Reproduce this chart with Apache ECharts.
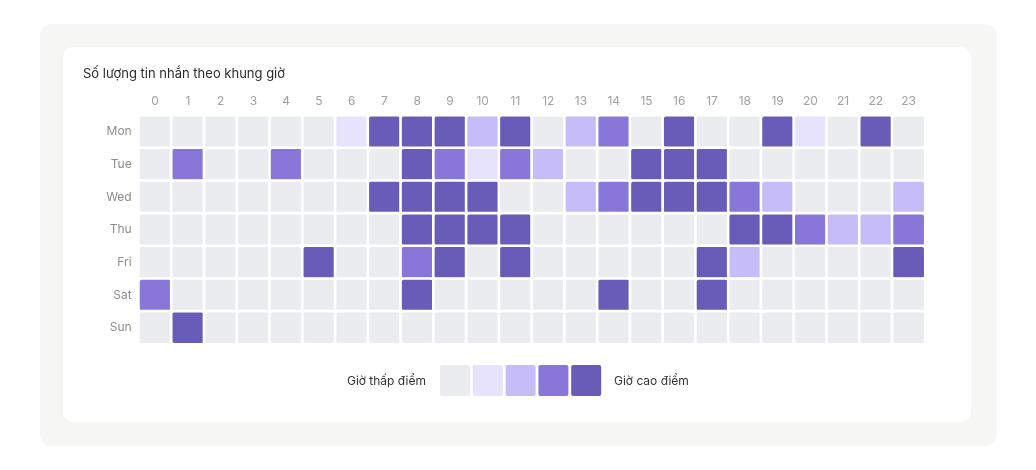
<!DOCTYPE html>
<html>
<head>
<meta charset="utf-8">
<script src="https://cdn.jsdelivr.net/npm/echarts@6/dist/echarts.min.js"></script>
<style>
  html, body { margin: 0; padding: 0; background: #fff; }
  .outer {
    position: absolute; left: 40px; top: 24px; width: 957px; height: 422px;
    background: #f6f6f4; border-radius: 12px;
  }
  .inner {
    position: absolute; left: 63px; top: 47px; width: 908px; height: 375px;
    background: #fff; border-radius: 10px;
  }
  #chart { position: absolute; left: 0; top: 0; width: 1036px; height: 470px; }
</style>
</head>
<body>
<div class="outer"></div>
<div class="inner"></div>
<div id="chart"></div>
<script>
const hours = ['0','1','2','3','4','5','6','7','8','9','10','11','12','13','14','15','16','17','18','19','20','21','22','23'];
const days = ['Mon', 'Tue', 'Wed', 'Thu', 'Fri', 'Sat', 'Sun'];

// muc do 0 (thap) -> 4 (cao diem), moi hang la 24 gio
const mon = [0,0,0,0,0,0,1,4,4,4,2,4,0,2,3,0,4,0,0,4,1,0,4,0];
const tue = [0,3,0,0,3,0,0,0,4,3,1,3,2,0,0,4,4,4,0,0,0,0,0,0];
const wed = [0,0,0,0,0,0,0,4,4,4,4,0,0,2,3,4,4,4,3,2,0,0,0,2];
const thu = [0,0,0,0,0,0,0,0,4,4,4,4,0,0,0,0,0,0,4,4,3,2,2,3];
const fri = [0,0,0,0,0,4,0,0,3,4,0,4,0,0,0,0,0,4,2,0,0,0,0,4];
const sat = [3,0,0,0,0,0,0,0,4,0,0,0,0,0,4,0,0,4,0,0,0,0,0,0];
const sun = [0,4,0,0,0,0,0,0,0,0,0,0,0,0,0,0,0,0,0,0,0,0,0,0];

const levelColors = ['#ebecf0', '#e8e3fc', '#c6bcf7', '#8877d9', '#675cb8'];
const legendText = ['Giờ thấp điểm', 'Giờ cao điểm'];

const rows = [mon, tue, wed, thu, fri, sat, sun];
const data = [];
rows.forEach((row, d) => {
  row.forEach((v, h) => data.push([h, d, v]));
});

// o vuong bo goc nho cho chu giai
const smallRoundRect = 'path://M2,0H28A2,2 0 0 1 30,2V29A2,2 0 0 1 28,31H2A2,2 0 0 1 0,29V2A2,2 0 0 1 2,0Z';

const chart = echarts.init(document.getElementById('chart'));
chart.setOption({
  textStyle: { fontFamily: 'Inter, "Noto Sans", sans-serif' },
  title: {
    text: 'Số lượng tin nhắn theo khung giờ',
    left: 78,
    top: 63,
    textStyle: { fontSize: 13, fontWeight: 'normal', color: '#2b2b2b' }
  },
  grid: { left: 138.7, right: 111, top: 115.4, bottom: 126 },
  xAxis: {
    type: 'category',
    position: 'top',
    data: hours,
    axisLine: { show: false },
    axisTick: { show: false },
    splitLine: { show: false },
    axisLabel: { color: '#a0a0a0', fontSize: 12, margin: 8 }
  },
  yAxis: {
    type: 'category',
    data: days,
    inverse: true,
    axisLine: { show: false },
    axisTick: { show: false },
    splitLine: { show: false },
    axisLabel: { color: '#8c8c8c', fontSize: 12, margin: 7 }
  },
  visualMap: {
    type: 'piecewise',
    orient: 'horizontal',
    left: 440,
    top: 365,
    padding: 0,
    itemWidth: 30,
    itemHeight: 31,
    itemGap: 2.8,
    showLabel: false,
    itemSymbol: smallRoundRect,
    hoverLink: false,
    selectedMode: false,
    pieces: levelColors.map((c, i) => ({ value: i, color: c }))
  },
  graphic: [
    {
      type: 'text', x: 426, y: 381,
      style: { text: legendText[0], align: 'right', verticalAlign: 'middle', fill: '#333', fontSize: 12, fontFamily: 'Inter' }
    },
    {
      type: 'text', x: 614, y: 381,
      style: { text: legendText[1], align: 'left', verticalAlign: 'middle', fill: '#333', fontSize: 12, fontFamily: 'Inter' }
    }
  ],
  series: [{
    type: 'heatmap',
    data: data,
    itemStyle: { borderColor: '#fff', borderWidth: 2.6, borderRadius: 3 },
    emphasis: { disabled: true }
  }]
});
</script>
</body>
</html>
